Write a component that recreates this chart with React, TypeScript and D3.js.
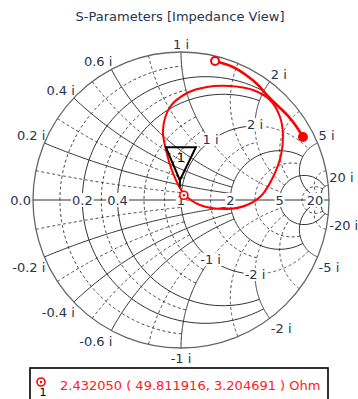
import React from 'react'
import * as d3 from 'd3'

// chart text
const title = 'S-Parameters [Impedance View]'

// impedance grid (normalised). solid = major, dashed = minor.
// each line is drawn up to a limit of the other coordinate
const majorR = [0.2, 0.4, 1, 2, 5, 20]
const majorRLimit = [2, 2, 2, 5, 20, 20]
const minorR = [0.1, 0.3, 0.6, 0.8, 1.5, 3, 10]
const minorRLimit = [1, 1, 1, 1, 2, 5, 20]
const majorX = [0.2, 0.4, 0.6, 1, 2, 5, 20]
const majorXLimit = [2, 2, 2, 1, 1, 20, 20]
const minorX = [0.1, 0.3, 0.5, 0.8, 1.5, 3, 10]
const minorXLimit = [1, 1, 1, 1, 2, 5, 20]
// major lines that go on dashed past their limit: [value, limit, end]
const dashedR = [[1, 2, 5]]
const dashedX = [[1, 1, 5], [2, 1, 5]]

// labels on the real axis and on the rim
const realLabelValues = [0, 0.2, 0.4, 1, 2, 5, 20]
const realLabels = ['0.0', '0.2', '0.4', '1', '2', '5', '20']
const imagLabelValues = [0.2, 0.4, 0.6, 1, 2, 5, 20]
const innerLabelValues = [1, 2] // labelled where they cross r = 1

// trace 1 (loop), reflection coefficient
const loopRe = [0.689, 0.669, 0.601, 0.486, 0.331, 0.176, 0.041, -0.074, -0.122, -0.101, -0.054, 0.02, 0.128, 0.311, 0.446, 0.547, 0.622, 0.676]
const loopIm = [0.439, 0.561, 0.676, 0.743, 0.770, 0.764, 0.723, 0.628, 0.473, 0.338, 0.182, 0.041, -0.034, -0.061, -0.034, 0.034, 0.155, 0.304]

// trace 2 (thick one near the rim)
const sweepRe = [0.230, 0.351, 0.439, 0.514, 0.581, 0.655, 0.723, 0.777, 0.824]
const sweepIm = [0.939, 0.899, 0.845, 0.784, 0.709, 0.635, 0.568, 0.500, 0.426]

// marker 1
const z0 = 50
const markerFreq = '2.432050'
const markerRe = 49.811916
const markerIm = 3.204691

const W = 358
const H = 399
const cx = 181
const cy = 200
const R = 148

const FONT = "'DejaVu Sans', sans-serif"
const LABEL = '#27344f'

type Pt = [number, number]

// z = r + jx  ->  reflection coefficient
function gamma (r: number, x: number): Pt {
  const d = (r + 1) * (r + 1) + x * x
  return [(r * r - 1 + x * x) / d, (2 * x) / d]
}

function textWidth (s: string) {
  let w = 0
  for (const c of s) {
    if (c === '.' || c === ' ' || c === ',') w += 4.1
    else if (c === 'i') w += 3.6
    else if (c === '-') w += 4.7
    else w += 8.3
  }
  return w
}

export default function App () {
  const sx = d3.scaleLinear().domain([-1, 1]).range([cx - R, cx + R])
  const sy = d3.scaleLinear().domain([-1, 1]).range([cy + R, cy - R])
  const line = d3.line<Pt>().x(d => sx(d[0])).y(d => sy(d[1]))
  const steps = 90

  // constant resistance v, reactance from x0 to x1
  const rPath = (v: number, x0: number, x1: number) => {
    const a0 = Math.atan(x0)
    const a1 = Math.atan(x1)
    return line(d3.range(steps + 1).map(i => gamma(v, Math.tan(a0 + ((a1 - a0) * i) / steps)))) || ''
  }
  // constant reactance v, resistance from r0 to r1
  const xPath = (v: number, r0: number, r1: number) => {
    const a0 = Math.atan(r0)
    const a1 = Math.atan(r1)
    return line(d3.range(steps + 1).map(i => gamma(Math.tan(a0 + ((a1 - a0) * i) / steps), v))) || ''
  }

  const solid: string[] = []
  const dashed: string[] = []
  majorR.forEach((v, i) => solid.push(rPath(v, -majorRLimit[i], majorRLimit[i])))
  majorX.forEach((v, i) => {
    solid.push(xPath(v, 0, majorXLimit[i]))
    solid.push(xPath(-v, 0, majorXLimit[i]))
  })
  minorR.forEach((v, i) => dashed.push(rPath(v, -minorRLimit[i], minorRLimit[i])))
  minorX.forEach((v, i) => {
    dashed.push(xPath(v, 0, minorXLimit[i]))
    dashed.push(xPath(-v, 0, minorXLimit[i]))
  })
  dashedR.forEach(([v, a, b]) => {
    dashed.push(rPath(v, a, b))
    dashed.push(rPath(v, -b, -a))
  })
  dashedX.forEach(([v, a, b]) => {
    dashed.push(xPath(v, a, b))
    dashed.push(xPath(-v, a, b))
  })

  const loopPts: Pt[] = loopRe.map((d, i) => [d, loopIm[i]])
  const sweepPts: Pt[] = sweepRe.map((d, i) => [d, sweepIm[i]])
  const loopLine = d3.line<Pt>().x(d => sx(d[0])).y(d => sy(d[1])).curve(d3.curveCatmullRomClosed)
  const sweepLine = d3.line<Pt>().x(d => sx(d[0])).y(d => sy(d[1])).curve(d3.curveCatmullRom)

  const mk = gamma(markerRe / z0, markerIm / z0)
  const mx = sx(mk[0])
  const my = sy(mk[1])

  // rim labels
  const rimLabels: { text: string, x: number, y: number, anchor: string }[] = []
  imagLabelValues.forEach(v => {
    ;[v, -v].forEach(xv => {
      const g = gamma(0, xv)
      const px = sx(g[0])
      const py = sy(g[1])
      const anchor = Math.abs(g[0]) < 0.05 ? 'middle' : g[0] < 0 ? 'end' : 'start'
      rimLabels.push({
        text: `${xv} i`,
        x: anchor === 'middle' ? px : px + 1,
        y: xv > 0 ? py - 3 : py + 15,
        anchor
      })
    })
  })

  const innerLabels: { text: string, x: number, y: number }[] = []
  innerLabelValues.forEach(v => {
    ;[v, -v].forEach(xv => {
      const g = gamma(1, xv)
      innerLabels.push({ text: `${xv} i`, x: sx(g[0]), y: sy(g[1]) + (xv > 0 ? 2 : 4) })
    })
  })

  const start = sweepPts[0]
  const end = sweepPts[sweepPts.length - 1]

  return (
    <svg width={W} height={H} style={{ position: 'absolute', left: 0, top: 0, background: '#fff' }}>
      <text x={180} y={21} textAnchor='middle' fontFamily={FONT} fontSize={13} fill={LABEL}>{title}</text>

      <g fill='none' stroke='#4a4a4a' strokeWidth={1} strokeDasharray='3,2.5'>
        {dashed.map((d, i) => <path key={i} d={d} />)}
      </g>
      <g fill='none' stroke='#333' strokeWidth={1}>
        {solid.map((d, i) => <path key={i} d={d} />)}
      </g>
      <circle cx={sx(0)} cy={sy(0)} r={sx(1) - sx(0)} fill='none' stroke='#666' strokeWidth={1.3} />
      <line x1={sx(-1)} x2={sx(1)} y1={sy(0)} y2={sy(0)} stroke='#333' strokeWidth={1} />

      {/* labels */}
      <g fontFamily={FONT} fontSize={13} fill={LABEL}>
        {realLabelValues.map((v, i) => {
          const px = sx(gamma(v, 0)[0])
          const w = textWidth(realLabels[i])
          const end = i === 0
          const x = end ? px - 2 : px
          return (
            <g key={'r' + i}>
              <rect x={end ? x - w - 1 : x - w / 2 - 1} y={sy(0) - 7} width={w + 2} height={14} fill='#fff' />
              <text x={x} y={sy(0) + 5} textAnchor={end ? 'end' : 'middle'}>{realLabels[i]}</text>
            </g>
          )
        })}
        {rimLabels.map((l, i) => (
          <text key={'x' + i} x={l.x} y={l.y} textAnchor={l.anchor}>{l.text}</text>
        ))}
        {innerLabels.map((l, i) => {
          const w = textWidth(l.text)
          return (
            <g key={'in' + i}>
              <rect x={l.x - w / 2 - 1} y={l.y - 10} width={w + 2} height={13} fill='#fff' />
              <text x={l.x} y={l.y + 1} textAnchor='middle'>{l.text}</text>
            </g>
          )
        })}
      </g>

      {/* traces */}
      <path d={loopLine(loopPts) || ''} fill='none' stroke='#ff0000' strokeWidth={2} />
      <path d={sweepLine(sweepPts) || ''} fill='none' stroke='#ff0000' strokeWidth={2.6} />
      <circle cx={sx(start[0])} cy={sy(start[1])} r={4} fill='#fff' stroke='#ff0000' strokeWidth={2} />
      <circle cx={sx(end[0])} cy={sy(end[1])} r={5} fill='#ff0000' />

      {/* marker 1 */}
      <path
        d={`M${mx - 15},${my - 48}L${mx + 15},${my - 48}L${mx - 1},${my - 15}Z M${mx - 1},${my - 15}L${mx - 1},${my - 8}`}
        fill='none' stroke='#000' strokeWidth={2} strokeLinejoin='miter'
      />
      <text x={mx} y={my - 33} textAnchor='middle' fontFamily={FONT} fontSize={13} fill='#000'>1</text>
      <circle cx={mx + 3} cy={my} r={4} fill='#fff' stroke='#ff0000' strokeWidth={1.6} />
      <circle cx={mx + 3} cy={my} r={1.2} fill='#ff0000' />

      {/* marker readout */}
      <rect x={30} y={368} width={298} height={40} fill='#fff' stroke='#000' strokeWidth={1.6} />
      <circle cx={41} cy={382} r={4} fill='#fff' stroke='#ff0000' strokeWidth={1.6} />
      <circle cx={41} cy={382} r={1.2} fill='#ff0000' />
      <text x={43} y={396} fontFamily={FONT} fontSize={11} fill='#000' textAnchor='middle'>1</text>
      <text x={60} y={390} fontFamily={FONT} fontSize={13} fill='#ff2020'>
        {`${markerFreq} ( ${markerRe.toFixed(6)}, ${markerIm.toFixed(6)} ) Ohm`}
      </text>
    </svg>
  )
}
